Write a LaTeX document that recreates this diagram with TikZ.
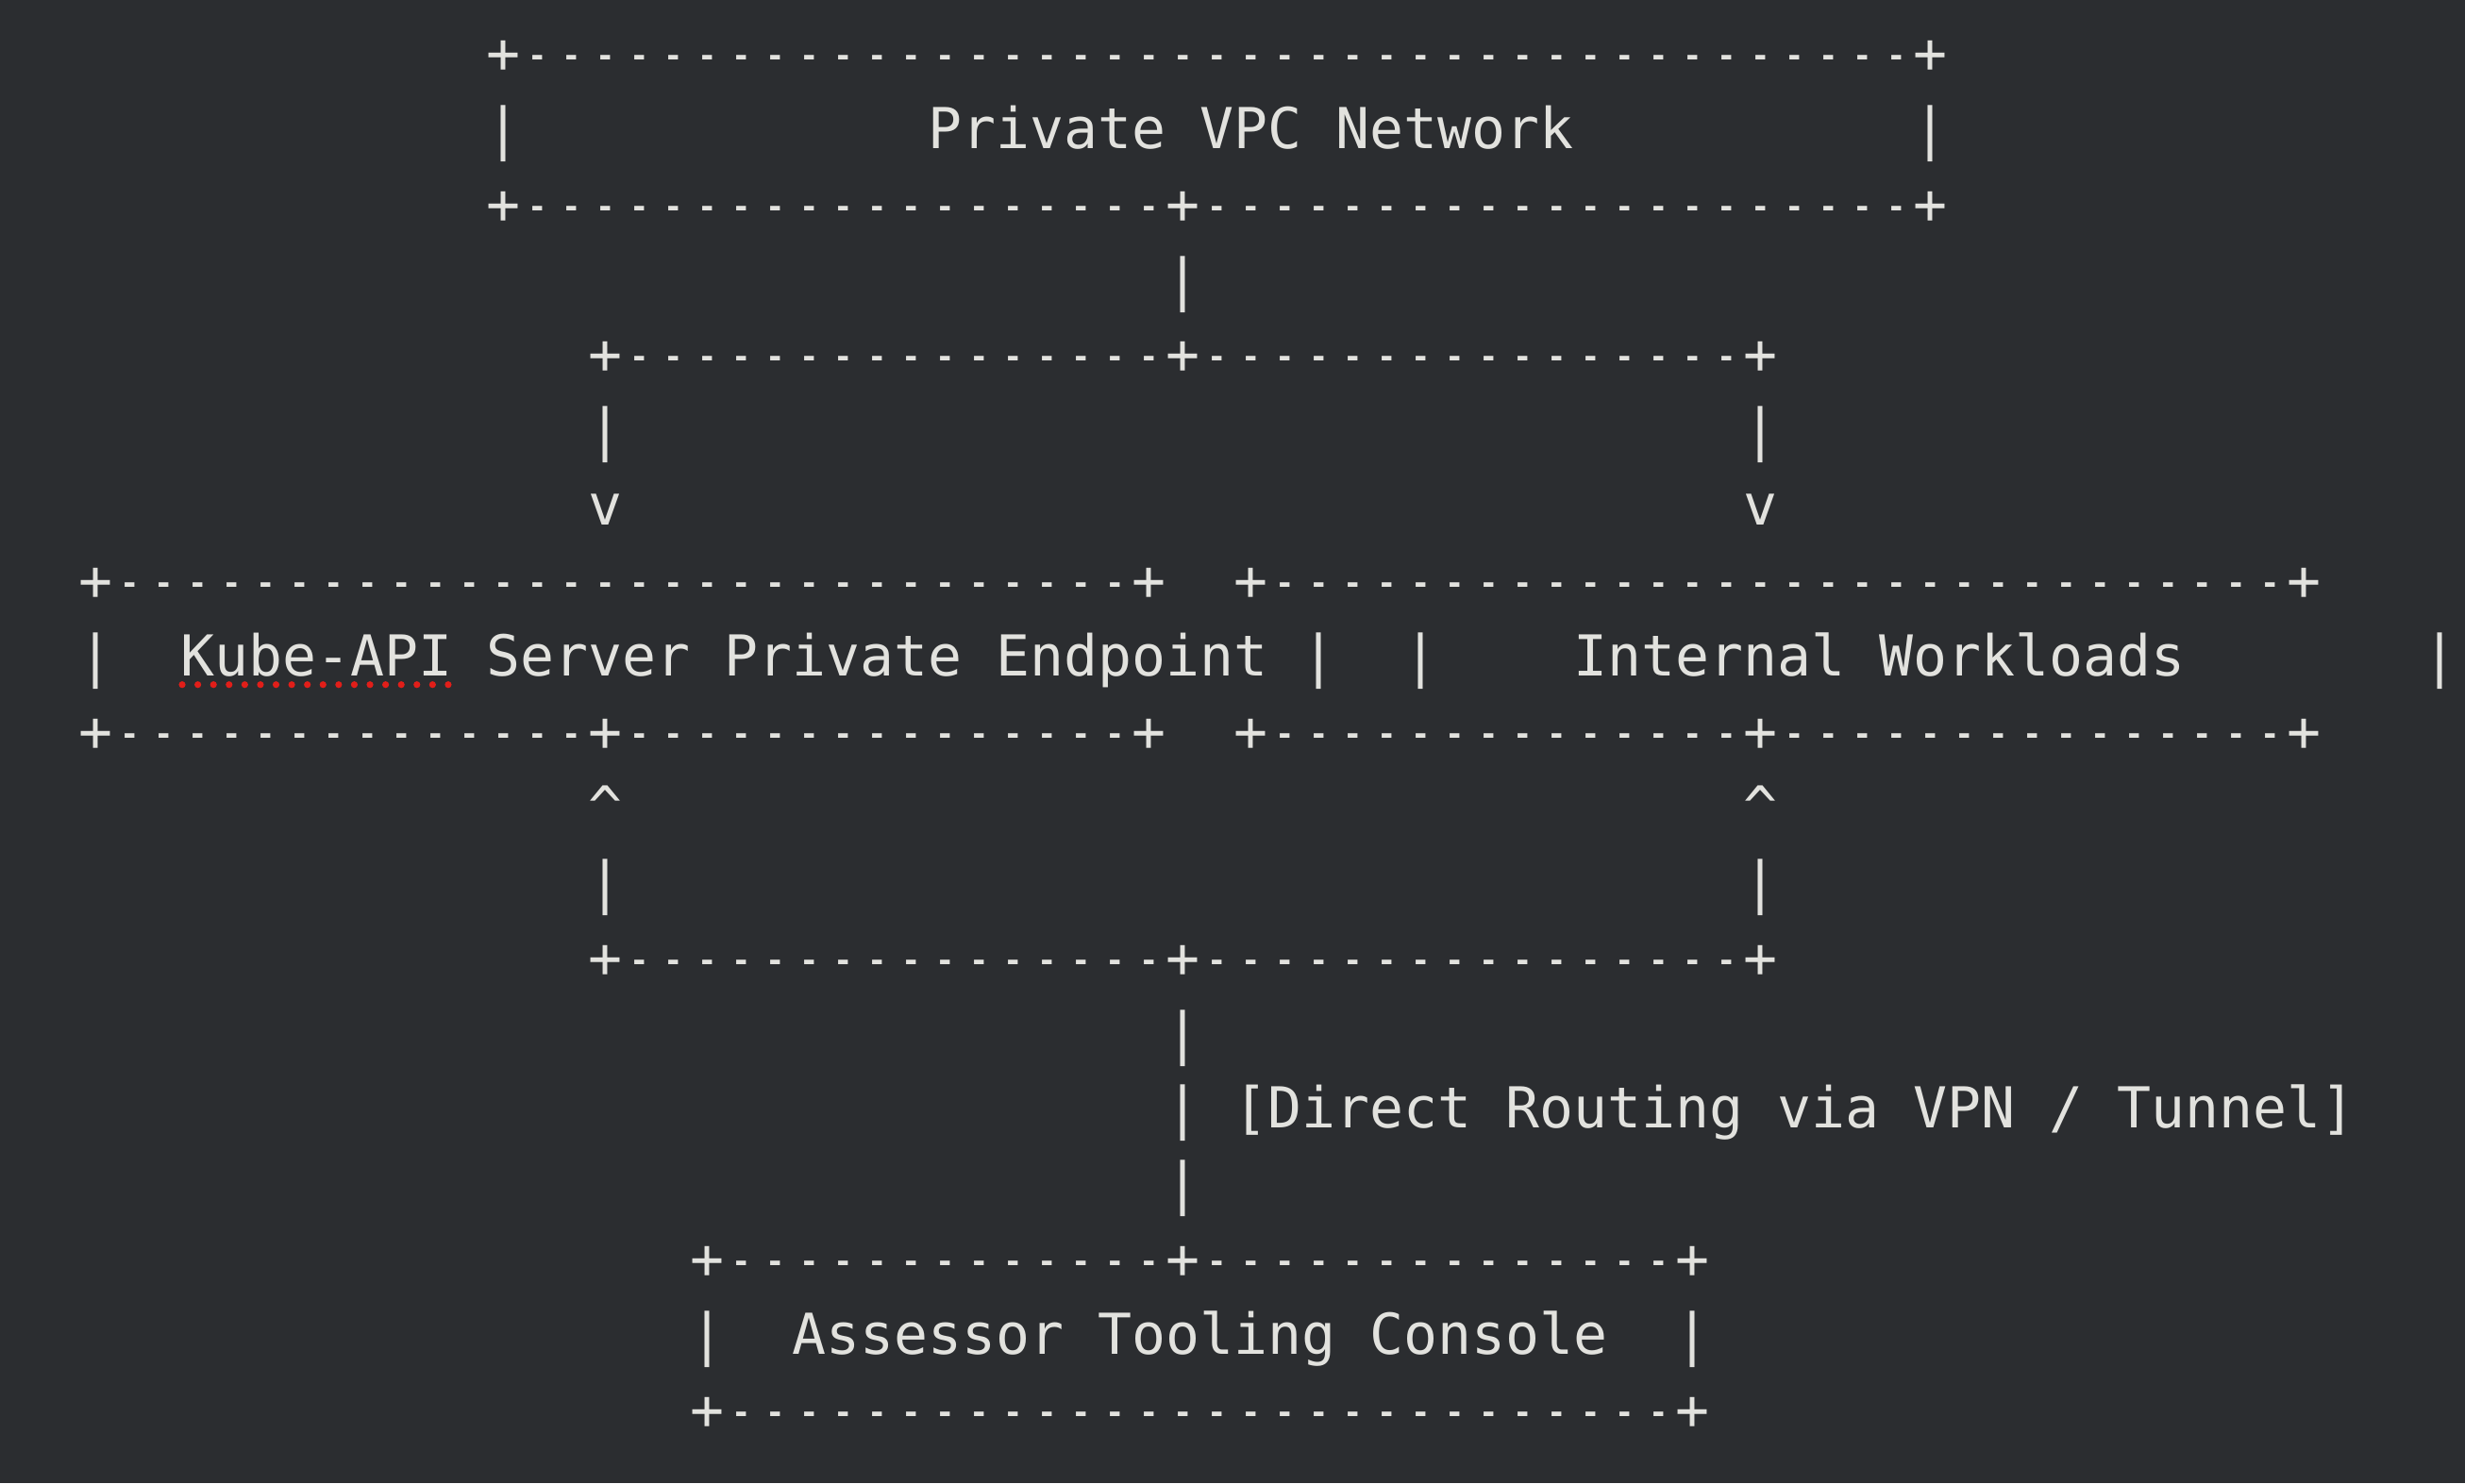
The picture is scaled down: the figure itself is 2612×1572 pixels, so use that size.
\documentclass[tikz,border=0pt]{standalone}
\usepackage{fontspec}
\newfontfamily\asciifam{DejaVu Sans Mono}
\definecolor{bg}{RGB}{43,45,48}
\definecolor{fg}{RGB}{226,226,222}
\definecolor{spell}{RGB}{225,30,25}
\tikzset{
  ch/.style={anchor=base west, inner sep=0pt, outer sep=0pt, text=fg,
    font=\asciifam\fontsize{59.8}{72}\selectfont},
  dashch/.style={ch, anchor=base, xscale=0.68},
  spelldot/.style={fill=spell}
}
% horizontal run of dashes on row #1 from column #2 to #3
\newcommand\dashrun[3]{\foreach \k in {#2,...,#3} {\node[dashch] (d-#1-\k) at (\k+0.5,#1) {-};}}
\begin{document}
\begin{tikzpicture}
\fill[bg] (0pt,0pt) rectangle (2612pt,-1572pt);
\useasboundingbox (0pt,0pt) rectangle (2612pt,-1572pt);
\begin{scope}[shift={(83.6pt,-77.3pt)}, x=36pt, y=-79.9pt]
% ---- Private VPC Network box
\node[ch] (p0a) at (12,0) {+}; \dashrun{0}{13}{53} \node[ch] (p0b) at (54,0) {+};
\node[ch] (v1a) at (12,1) {|};
\node[ch] (vpc) at (25,1) {Private VPC Network};
\node[ch] (v1b) at (54,1) {|};
\node[ch] (p2a) at (12,2) {+}; \dashrun{2}{13}{31} \node[ch] (p2b) at (32,2) {+};
\dashrun{2}{33}{53} \node[ch] (p2c) at (54,2) {+};
% ---- split down
\node[ch] (v3) at (32,3) {|};
\node[ch] (p4a) at (15,4) {+}; \dashrun{4}{16}{31} \node[ch] (p4b) at (32,4) {+};
\dashrun{4}{33}{48} \node[ch] (p4c) at (49,4) {+};
\node[ch] (v5a) at (15,5) {|}; \node[ch] (v5b) at (49,5) {|};
\node[ch] (a6a) at (15,6) {v}; \node[ch] (a6b) at (49,6) {v};
% ---- Kube-API and Workloads boxes
\node[ch] (p7a) at (0,7) {+}; \dashrun{7}{1}{30} \node[ch] (p7b) at (31,7) {+};
\node[ch] (p7c) at (34,7) {+}; \dashrun{7}{35}{64} \node[ch] (p7d) at (65,7) {+};
\node[ch] (v8a) at (0,8) {|};
\node[ch] (kube) at (3,8) {Kube-API Server Private Endpoint};
\node[ch] (v8b) at (36,8) {|};
\node[ch] (v8c) at (39,8) {|};
\node[ch] (work) at (44,8) {Internal Workloads};
\node[ch] (v8d) at (69,8) {|};
\foreach \i in {0,...,17} {\fill[spelldot] ({3.04+\i*0.4606},8.115) circle (3.6pt);}
\node[ch] (p9a) at (0,9) {+}; \dashrun{9}{1}{14} \node[ch] (p9b) at (15,9) {+};
\dashrun{9}{16}{30} \node[ch] (p9c) at (31,9) {+};
\node[ch] (p9d) at (34,9) {+}; \dashrun{9}{35}{48} \node[ch] (p9e) at (49,9) {+};
\dashrun{9}{50}{64} \node[ch] (p9f) at (65,9) {+};
% ---- merge up
\node[ch] (a10a) at (15,10) {\^{}}; \node[ch] (a10b) at (49,10) {\^{}};
\node[ch] (v11a) at (15,11) {|}; \node[ch] (v11b) at (49,11) {|};
\node[ch] (p12a) at (15,12) {+}; \dashrun{12}{16}{31} \node[ch] (p12b) at (32,12) {+};
\dashrun{12}{33}{48} \node[ch] (p12c) at (49,12) {+};
\node[ch] (v13) at (32,13) {|};
\node[ch] (v14) at (32,14) {|};
\node[ch] (route) at (34,14) {[Direct Routing via VPN / Tunnel]};
\node[ch] (v15) at (32,15) {|};
% ---- Assessor Tooling Console box
\node[ch] (p16a) at (18,16) {+}; \dashrun{16}{19}{31} \node[ch] (p16b) at (32,16) {+};
\dashrun{16}{33}{46} \node[ch] (p16c) at (47,16) {+};
\node[ch] (v17a) at (18,17) {|};
\node[ch] (console) at (21,17) {Assessor Tooling Console};
\node[ch] (v17b) at (47,17) {|};
\node[ch] (p18a) at (18,18) {+}; \dashrun{18}{19}{46} \node[ch] (p18b) at (47,18) {+};
\end{scope}
\end{tikzpicture}
\end{document}
